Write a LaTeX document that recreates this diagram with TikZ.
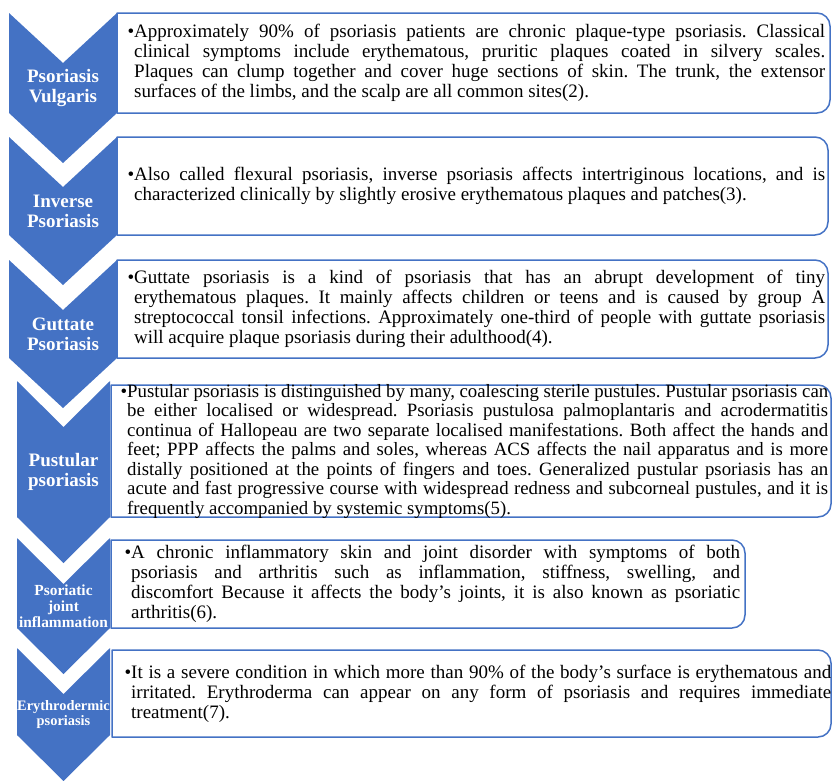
\documentclass[tikz,border=0pt]{standalone}
\usepackage{fontspec}
\setmainfont{Liberation Serif}
\usepackage{xcolor}
\usetikzlibrary{positioning}

\definecolor{chevblue}{HTML}{4472C4}

\begin{document}
\begin{tikzpicture}[
            x = 1pt, % one unit per point
            y = -1pt, % rows counted downwards
            line join = round
        ]

        \tikzstyle{chevron}=[
            fill = chevblue
        ]
        \tikzstyle{panel}=[
            draw = chevblue,
            line width = 1.5pt
        ]
        \tikzstyle{heading}=[
            text = white,
            align = center,
            inner sep = 0pt,
            font = \bfseries\fontsize{19}{20}\selectfont
        ]
        \tikzstyle{entry}=[
            anchor = west,
            inner sep = 0pt,
            align = justify,
            font = \fontsize{19}{20}\selectfont\frenchspacing
        ]

        \useasboundingbox (0,0) rectangle (832,780);

        % chevrons down the left side
        \fill[chevron] (9,13) -- (63,63) -- (117,13) -- (117,113) -- (63,163) -- (9,113) -- cycle;
        \fill[chevron] (9,137) -- (63,187) -- (117,137) -- (117,235) -- (63,285) -- (9,235) -- cycle;
        \fill[chevron] (9,260) -- (63,310) -- (117,260) -- (117,358) -- (63,408) -- (9,358) -- cycle;
        \fill[chevron] (17,381) -- (63.5,427) -- (110,381) -- (110,517) -- (63.5,563) -- (17,517) -- cycle;
        \fill[chevron] (17,538) -- (63.5,584) -- (110,538) -- (110,628) -- (63.5,674) -- (17,628) -- cycle;
        \fill[chevron] (17,648) -- (63.5,694) -- (110,648) -- (110,735) -- (63.5,781) -- (17,735) -- cycle;

        % text panels, rounded on the right only
        \draw[panel] (117,63) -- (117,13) -- (400,13) [rounded corners=13pt] -- (830,13) -- (830,113) -- (400,113) [sharp corners] -- (117,113) -- cycle;
        \draw[panel] (117,186) -- (117,137) -- (400,137) [rounded corners=13pt] -- (828,137) -- (828,235) -- (400,235) [sharp corners] -- (117,235) -- cycle;
        \draw[panel] (117,309) -- (117,260) -- (400,260) [rounded corners=13pt] -- (828,260) -- (828,358) -- (400,358) [sharp corners] -- (117,358) -- cycle;
        \draw[panel] (111,451) -- (111,385) -- (400,385) [rounded corners=13pt] -- (831,385) -- (831,517) -- (400,517) [sharp corners] -- (111,517) -- cycle;
        \draw[panel] (111,584) -- (111,540) -- (400,540) [rounded corners=13pt] -- (745,540) -- (745,628) -- (400,628) [sharp corners] -- (111,628) -- cycle;
        \draw[panel] (112,693) -- (112,650) -- (400,650) [rounded corners=13pt] -- (831,650) -- (831,737) -- (400,737) [sharp corners] -- (112,737) -- cycle;

        % headings
        \node[heading] (vulgaris) at (63,88) {Psoriasis\\Vulgaris};
        \node[heading] (inverse) at (63,211) {Inverse\\Psoriasis};
        \node[heading] (guttate) at (63,334) {Guttate\\Psoriasis};
        \node[heading] (pustular) at (63.5,472) {Pustular\\psoriasis};
        \node[heading, font = \bfseries\fontsize{15.4}{16}\selectfont] (arthritic) at (63.5,606) {Psoriatic\\joint\\inflammation};
        \node[heading, font = \bfseries\fontsize{14.4}{15}\selectfont] (erythro) at (63.5,715) {Erythrodermic\\psoriasis};

        % descriptions
        \node[entry, text width = 691pt] (vulgaris-text) at (134,63) {\tolerance=10000\relax\hyphenpenalty=10000\relax
            \noindent\llap{•}Approximately 90\% of psoriasis patients are chronic plaque-type psoriasis. Classical\linebreak
            clinical symptoms include erythematous, pruritic plaques coated in silvery scales.\linebreak
            Plaques can clump together and cover huge sections of skin. The trunk, the extensor\linebreak
            surfaces of the limbs, and the scalp are all common sites(2).};
        \node[entry, text width = 691pt] (inverse-text) at (134,186) {\tolerance=10000\relax\hyphenpenalty=10000\relax
            \noindent\llap{•}Also called flexural psoriasis, inverse psoriasis affects intertriginous locations, and is\linebreak
            characterized clinically by slightly erosive erythematous plaques and patches(3).};
        \node[entry, text width = 691pt] (guttate-text) at (134,309) {\tolerance=10000\relax\hyphenpenalty=10000\relax
            \noindent\llap{•}Guttate psoriasis is a kind of psoriasis that has an abrupt development of tiny\linebreak
            erythematous plaques. It mainly affects children or teens and is caused by group A\linebreak
            streptococcal tonsil infections. Approximately one-third of people with guttate psoriasis\linebreak
            will acquire plaque psoriasis during their adulthood(4).};
        \node[entry, text width = 701pt, font = \fontsize{18.8}{19.5}\selectfont\frenchspacing] (pustular-text) at (127,451) {\tolerance=10000\relax\hyphenpenalty=10000\relax
            \noindent\llap{•}Pustular psoriasis is distinguished by many, coalescing sterile pustules. Pustular psoriasis can\linebreak
            be either localised or widespread. Psoriasis pustulosa palmoplantaris and acrodermatitis\linebreak
            continua of Hallopeau are two separate localised manifestations. Both affect the hands and\linebreak
            feet; PPP affects the palms and soles, whereas ACS affects the nail apparatus and is more\linebreak
            distally positioned at the points of fingers and toes. Generalized pustular psoriasis has an\linebreak
            acute and fast progressive course with widespread redness and subcorneal pustules, and it is\linebreak
            frequently accompanied by systemic symptoms(5).};
        \node[entry, text width = 609pt] (arthritic-text) at (131,584) {\tolerance=10000\relax\hyphenpenalty=10000\relax
            \noindent\llap{•}A chronic inflammatory skin and joint disorder with symptoms of both\linebreak
            psoriasis and arthritis such as inflammation, stiffness, swelling, and\linebreak
            discomfort Because it affects the body's joints, it is also known as psoriatic\linebreak
            arthritis(6).};
        \node[entry, text width = 700pt] (erythro-text) at (131,693.5) {\tolerance=10000\relax\hyphenpenalty=10000\relax
            \noindent\llap{•}It is a severe condition in which more than 90\% of the body's surface is erythematous and\linebreak
            irritated. Erythroderma can appear on any form of psoriasis and requires immediate\linebreak
            treatment(7).};

\end{tikzpicture}
\end{document}
